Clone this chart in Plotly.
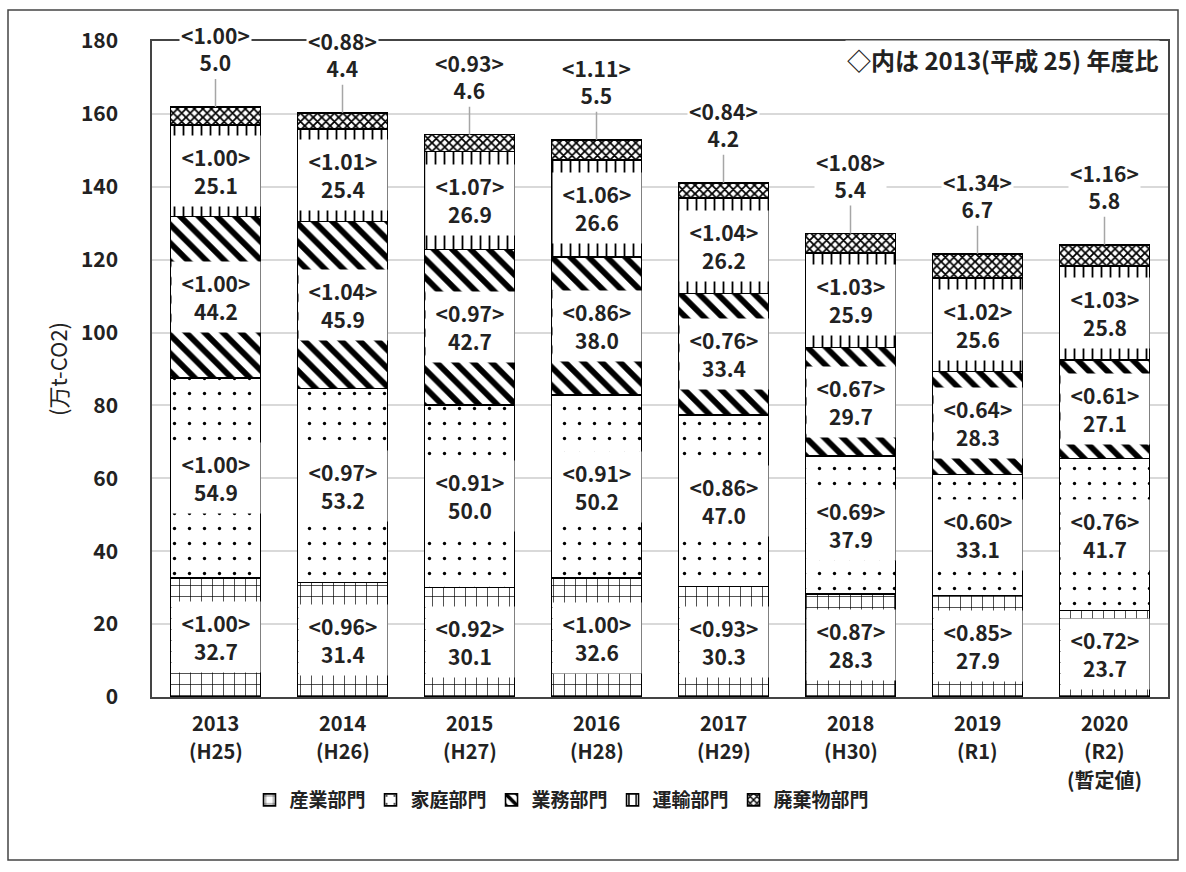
import plotly.graph_objects as go

categories = ["2013<br>(H25)", "2014<br>(H26)", "2015<br>(H27)", "2016<br>(H28)",
              "2017<br>(H29)", "2018<br>(H30)", "2019<br>(R1)", "2020<br>(R2)<br>(暫定値)"]

industry = [32.7, 31.4, 30.1, 32.6, 30.3, 28.3, 27.9, 23.7]
industry_ratio = [1.00, 0.96, 0.92, 1.00, 0.93, 0.87, 0.85, 0.72]
household = [54.9, 53.2, 50.0, 50.2, 47.0, 37.9, 33.1, 41.7]
household_ratio = [1.00, 0.97, 0.91, 0.91, 0.86, 0.69, 0.60, 0.76]
business = [44.2, 45.9, 42.7, 38.0, 33.4, 29.7, 28.3, 27.1]
business_ratio = [1.00, 1.04, 0.97, 0.86, 0.76, 0.67, 0.64, 0.61]
transport = [25.1, 25.4, 26.9, 26.6, 26.2, 25.9, 25.6, 25.8]
transport_ratio = [1.00, 1.01, 1.07, 1.06, 1.04, 1.03, 1.02, 1.03]
waste = [5.0, 4.4, 4.6, 5.5, 4.2, 5.4, 6.7, 5.8]
waste_ratio = [1.00, 0.88, 0.93, 1.11, 0.84, 1.08, 1.34, 1.16]

series_names = ["産業部門", "家庭部門", "業務部門", "運輸部門", "廃棄物部門"]
y_ticks = [0, 20, 40, 60, 80, 100, 120, 140, 160, 180]
y_title = "(万t-CO2)"
note_text = "◇内は 2013(平成 25) 年度比"

JFONT = "Noto Sans CJK JP, sans-serif"

W, H = 1186, 872
ML, MR, MT, MB = 152, 18, 41, 175
PW = W - ML - MR
PH = H - MT - MB

patterns = [
    dict(shape="+", size=11, solidity=0.12),
    dict(shape=".", size=15, solidity=0.04),
    dict(shape="\\", size=13, solidity=0.45),
    dict(shape="|", size=9, solidity=0.2),
    dict(shape="x", size=6, solidity=0.5),
]
values = [industry, household, business, transport, waste]
ratios = [industry_ratio, household_ratio, business_ratio, transport_ratio, waste_ratio]

fig = go.Figure()
for name, vals, pat in zip(series_names, values, patterns):
    fig.add_trace(go.Bar(
        x=categories, y=vals, name=name, width=0.71,
        marker=dict(color="white", line=dict(color="black", width=1.6),
                    pattern=dict(fgcolor="black", bgcolor="white", fillmode="replace",
                                 fgopacity=1, **pat)),
        hoverinfo="skip",
    ))

annotations = []
cum = [0.0] * len(categories)
for k in range(4):
    for j, cat in enumerate(categories):
        v = values[k][j]
        r = ratios[k][j]
        annotations.append(dict(
            x=cat, y=cum[j] + v / 2, xref="x", yref="y",
            text=f"<b>&lt;{r:.2f}&gt;<br>{v:.1f}</b>", showarrow=False,
            font=dict(family=JFONT, size=21, color="#222"),
            bgcolor="white", width=86, height=min(68, max(10, v * PH / 180 - 6)),
            valign="middle",
        ))
        cum[j] += v
for j, cat in enumerate(categories):
    total = cum[j] + waste[j]
    annotations.append(dict(
        x=cat, y=total, xref="x", yref="y",
        text=f"<b>&lt;{waste_ratio[j]:.2f}&gt;<br>{waste[j]:.1f}</b>",
        showarrow=True, ax=0, ay=-58, arrowhead=0, arrowwidth=1.5,
        arrowcolor="#a6a6a6", standoff=0,
        font=dict(family=JFONT, size=21, color="#222"),
        bgcolor="white", borderpad=1,
    ))

# category labels, one line per annotation for even line spacing
for cat in categories:
    for i, line in enumerate(cat.split("<br>")):
        annotations.append(dict(
            x=cat, y=0, xref="x", yref="paper", yanchor="middle",
            yshift=-(25 + 28.5 * i), text=f"<b>{line}</b>", showarrow=False,
            font=dict(family=JFONT, size=20, color="#222"),
        ))

annotations.append(dict(
    x=0.992, y=0.972, xref="paper", yref="paper", xanchor="right", yanchor="middle",
    text="<b>" + note_text + "</b>", showarrow=False,
    font=dict(family=JFONT, size=24, color="#222"), bgcolor="white",
))
annotations.append(dict(
    x=(57 - ML) / PW, y=0.5, xref="paper", yref="paper", xanchor="center", yanchor="middle",
    text=y_title, textangle=-90, showarrow=False,
    font=dict(family=JFONT, size=22, color="#222"),
))

shapes = [dict(
    type="rect", xref="paper", yref="paper",
    x0=(8 - ML) / PW, x1=(1178 - ML) / PW,
    y0=(H - MB - 860) / PH, y1=(H - MB - 10) / PH,
    line=dict(color="#444", width=1.5), fillcolor="rgba(0,0,0,0)", layer="above",
)]

fig.update_layout(
    width=W, height=H,
    margin=dict(l=ML, r=MR, t=MT, b=MB),
    barmode="stack", bargap=0.29,
    paper_bgcolor="white", plot_bgcolor="white",
    font=dict(family=JFONT, color="#222"),
    annotations=annotations, shapes=shapes,
    legend=dict(orientation="h", x=(562 - ML) / PW, xanchor="center",
                y=(H - MB - 800) / PH, yanchor="middle", traceorder="normal",
                font=dict(family=JFONT, size=19, color="#222", weight="bold"),
                itemclick=False, itemdoubleclick=False),
    xaxis=dict(showline=True, mirror=True, linecolor="#444", linewidth=1.5,
               showticklabels=False, ticks="", showgrid=False),
    yaxis=dict(range=[0, 180], tickvals=y_ticks, showline=True, mirror=True,
               linecolor="#444", linewidth=1.5, showgrid=True, gridcolor="#d9d9d9",
               gridwidth=2, ticks="", ticklabelstandoff=28,
               tickfont=dict(family=JFONT, size=21, color="#222", weight="bold")),
)
fig.write_html("out.html", config={"displayModeBar": False},
               post_script="document.body.style.margin='0';")
